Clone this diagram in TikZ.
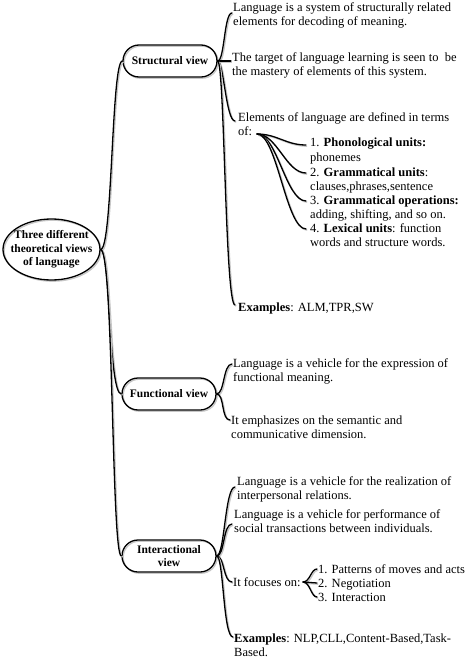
\documentclass[tikz,border=0pt]{standalone}
\usepackage{fontspec}
\setmainfont{Liberation Serif}
\usetikzlibrary{shapes.geometric}
\begin{document}
\begin{tikzpicture}[x=1pt,y=-1pt,
  shadowed/.style={preaction={draw=black!22, line width=1.3pt, transform canvas={xshift=1.2pt,yshift=-1.2pt}}},
  conn/.style={line width=1.3pt, line cap=round, shadowed},
  txt/.style={anchor=base west, inner sep=0pt, align=left, font=\fontsize{12.5}{14}\selectfont},
  viewbox/.style={draw, line width=1.3pt, rounded corners=16pt, minimum width=94pt, minimum height=32pt, inner sep=0pt, align=center, font=\fontsize{11.5}{13.5}\selectfont\bfseries, shadowed},
  rootshape/.style={draw, ellipse, line width=1.3pt, minimum width=97pt, minimum height=61pt, inner sep=0pt, shadowed},
  roottxt/.style={inner sep=0pt, align=center, font=\fontsize{11.5}{13.5}\selectfont\bfseries}]
\useasboundingbox (0,0) rectangle (474,663);

% root
\node[rootshape] (root) at (51.5,249.5) {};
\node[roottxt] (roottext) at (root.center) {Three different\\theoretical views\\of language};

% view boxes
\node[viewbox] (sv) at (170,61) {Structural view};
\node[viewbox] (fv) at (169,394) {Functional view};
\node[viewbox] (iv) at (169,556) {Interactional\\view};

% structural texts (base = baseline of last line)
\node[txt] (s1) at (233,25.5) {Language is a system of structurally related\\elements for decoding of meaning.};
\node[txt] (s2) at (232,76) {The target of language learning is seen to\ \ be\\the mastery of elements of this system.};
\node[txt] (s3) at (238,136) {Elements of language are defined in terms\\of:};
\node[txt] (p1) at (310,161) {1. \textbf{Phonological units:}\\phonemes};
\node[txt] (p2) at (310,190) {2. \textbf{Grammatical units}:\\clauses,phrases,sentence};
\node[txt] (p3) at (310,218) {3. \textbf{Grammatical operations:}\\adding, shifting, and so on.};
\node[txt] (p4) at (310,246) {4. \textbf{Lexical units}: function\\words and structure words.};
\node[txt] (s4) at (238,311) {\textbf{Examples}: ALM,TPR,SW};

% functional texts
\node[txt] (f1) at (233,381.5) {Language is a vehicle for the expression of\\functional meaning.};
\node[txt] (f2) at (231,438) {It emphasizes on the semantic and\\communicative dimension.};

% interactional texts
\node[txt] (i1) at (237,499) {Language is a vehicle for the realization of\\interpersonal relations.};
\node[txt] (i2) at (234,532) {Language is a vehicle for performance of\\social transactions between individuals.};
\node[txt] (i3) at (233,586) {It focuses on:};
\node[txt] (q1) at (318,573) {1. Patterns of moves and acts};
\node[txt] (q2) at (318,587) {2. Negotiation};
\node[txt] (q3) at (318,601) {3. Interaction};
\node[txt] (i4) at (234,656) {\textbf{Examples}: NLP,CLL,Content-Based,Task-\\Based.};

% connector end points
\coordinate (s1in) at (232,13);
\coordinate (s2in) at (231,61);
\coordinate (s3in) at (235,121);
\coordinate (s4in) at (235,305);
\coordinate (ofout) at (257,134);
\coordinate (p1in) at (306,145);
\coordinate (p2in) at (306,173);
\coordinate (p3in) at (306,201);
\coordinate (p4in) at (306,229);
\coordinate (f1in) at (232,364);
\coordinate (f2in) at (230,420);
\coordinate (i1in) at (235,487);
\coordinate (i2in) at (232,524);
\coordinate (i3in) at (232,582);
\coordinate (i4in) at (233,637);
\coordinate (focout) at (303,582);
\coordinate (q1in) at (317,569);
\coordinate (q2in) at (317,583);
\coordinate (q3in) at (317,597);

% root connectors
\draw[conn] (root.east) .. controls +(12,0) and +(-11,0) .. (sv.west);
\draw[conn] (root.east) .. controls +(10,0) and +(-13,0) .. (fv.west);
\draw[conn] (root.east) .. controls +(13,0) and +(-10,0) .. (iv.west);

% structural connectors
\draw[conn] (sv.east) .. controls +(7,0) and +(-8,0) .. (s1in);
\draw[conn] (sv.east) -- (s2in);
\draw[conn] (sv.east) .. controls +(6,0) and +(-9,0) .. (s3in);
\draw[conn] (sv.east) .. controls +(7,0) and +(-10,0) .. (s4in);
\draw[conn] (ofout) .. controls +(20,0) and +(-20,0) .. (p1in);
\draw[conn] (ofout) .. controls +(20,0) and +(-20,0) .. (p2in);
\draw[conn] (ofout) .. controls +(20,0) and +(-20,0) .. (p3in);
\draw[conn] (ofout) .. controls +(20,0) and +(-20,0) .. (p4in);

% functional connectors
\draw[conn] (fv.east) .. controls +(8,0) and +(-9,0) .. (f1in);
\draw[conn] (fv.east) .. controls +(8,0) and +(-9,0) .. (f2in);

% interactional connectors
\draw[conn] (iv.east) .. controls +(8,0) and +(-10,0) .. (i1in);
\draw[conn] (iv.east) .. controls +(8,0) and +(-9,0) .. (i2in);
\draw[conn] (iv.east) .. controls +(8,0) and +(-9,0) .. (i3in);
\draw[conn] (iv.east) .. controls +(7,0) and +(-10,0) .. (i4in);
\draw[conn] (focout) .. controls +(7,0) and +(-6,0) .. (q1in);
\draw[conn] (focout) -- (q2in);
\draw[conn] (focout) .. controls +(7,0) and +(-6,0) .. (q3in);
\end{tikzpicture}
\end{document}
